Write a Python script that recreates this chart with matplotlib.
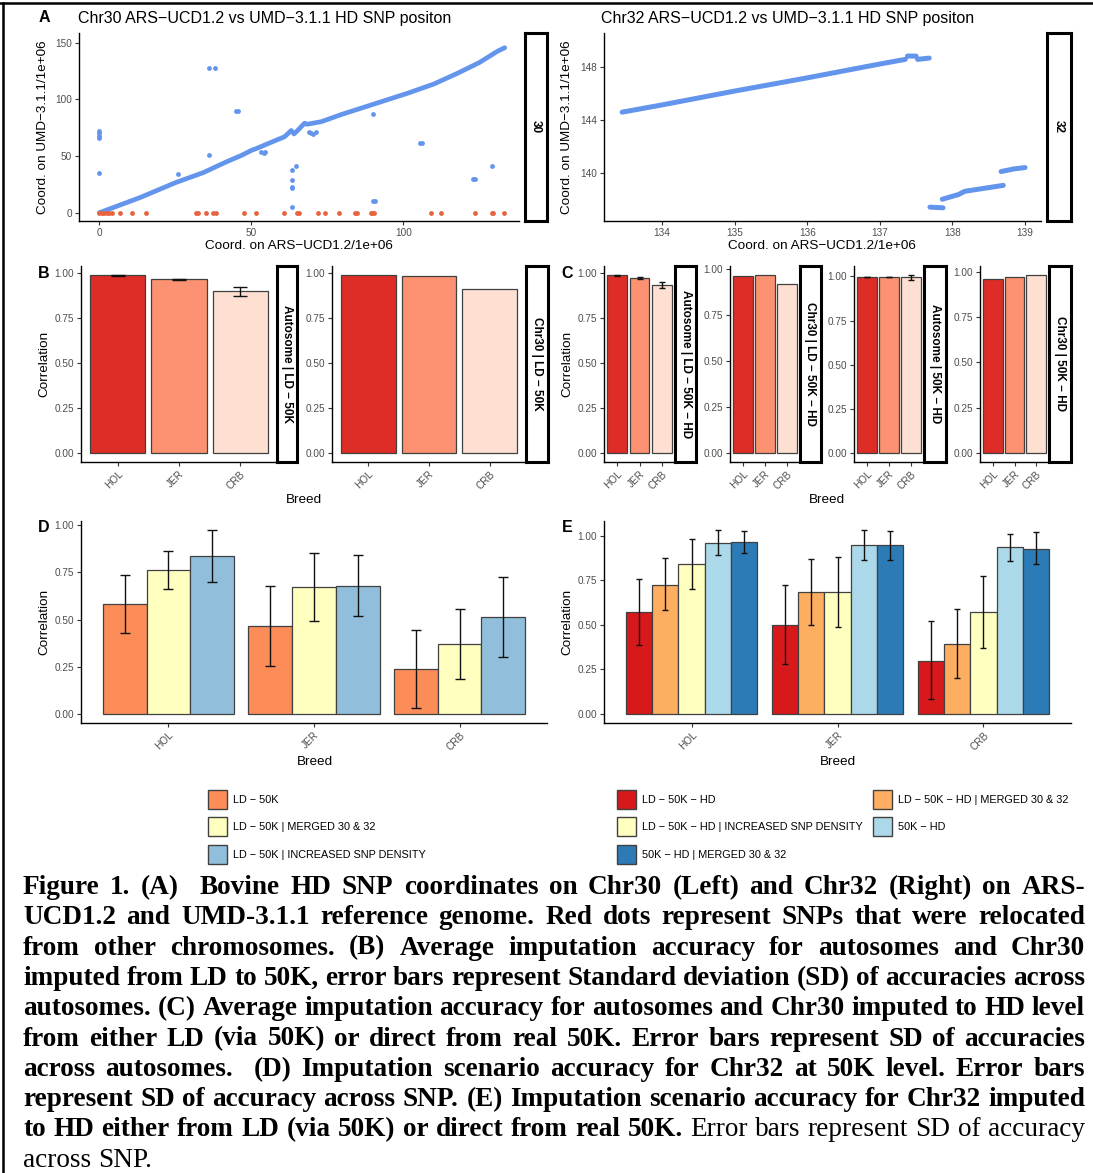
import numpy as np
import matplotlib
matplotlib.use("Agg")
import matplotlib.pyplot as plt
from matplotlib.patches import Patch
from matplotlib.lines import Line2D

plt.rcParams['font.family'] = ['Liberation Sans', 'DejaVu Sans']

# ================= DATA =================
nan = np.nan

# panel A, Chr30: main alignment band (Mb on ARS-UCD1.2 vs Mb on UMD-3.1.1)
chr30_band_ars = [0, 13.5, 25, 34.3, 35.5, 38.5, 42.3, 46.7, 50, 52, 55.5, 60.9, 63.1,
                  64, 65, 67.5, 68.3, 73, 80, 90.5, 101.4, 110, 117.8, 125, 129.9,
                  131, 133.3]
chr30_band_umd = [0, 13.5, 26.5, 35.5, 37, 40.8, 45.5, 50.5, 55, 57, 61, 67, 72.5,
                  69.5, 72, 79, 78, 80.3, 87, 96, 105.4, 113.5, 123, 132.5, 140.7,
                  142.5, 145.5]
# scattered SNPs off the band (incl. the small clusters just under it)
chr30_out_ars = [0, 0, 0, 0, 0, 0.3, 25.8, 36.2, 38, 36.2, 44.9, 45.5, 53.3, 54, 54.6,
                 68.8, 69.6, 70.4, 71.2, 63.5, 63.5, 63.5, 63.5,
                 63.5, 64.8, 89.9, 90, 90.8, 105.6, 106, 123, 123.4, 129]
chr30_out_umd = [66, 68, 70, 72, 35, 1, 34.4, 128, 128, 50.6, 90, 89.5, 53.5, 52.4, 53.2,
                 71.5, 70, 69.5, 71, 37.7, 28.9, 22.4, 21.5,
                 5.3, 41.2, 86.8, 10.3, 10.3, 61.8, 61.3, 29.7, 29.5, 41.2]
# SNPs relocated from other chromosomes (shown at 0 on UMD)
chr30_moved_ars = [0, 0.8, 1.6, 2.5, 3.3, 4.3, 6.8, 10.7, 15.2, 31.9, 32.5, 35.1, 37.4, 38.3,
                   47.5, 51.6, 60.7, 65.1, 65.6, 71.9, 74.1, 78.8, 84.0, 84.8, 89.2, 89.6, 90.3,
                   109.1, 112.2, 123.6, 129.0, 129.5, 133.1]

# panel A, Chr32 (segments split by nan)
chr32_ars = [133.45, 134, 135, 136, 137, 137.35, nan, 137.38, 137.5, nan, 137.52, 137.68, nan,
             137.69, 137.87, nan, 137.86, 138.08, 138.17, 138.7, nan, 138.67, 138.85, 139.0]
chr32_umd = [144.6, 145.15, 146.2, 147.2, 148.25, 148.6, nan, 148.85, 148.85, nan, 148.6, 148.7, nan,
             137.4, 137.35, nan, 138.0, 138.35, 138.6, 139.05, nan, 140.1, 140.3, 140.4]

breeds = ["HOL", "JER", "CRB"]

# panel B
b_auto = [0.988, 0.967, 0.900]
b_auto_sd = [0.003, 0.003, 0.025]
b_chr30 = [0.990, 0.983, 0.912]

# panel C
c_auto_ld = [0.985, 0.972, 0.930]
c_auto_ld_sd = [0.002, 0.006, 0.016]
c_chr30_ld = [0.960, 0.966, 0.918]
c_auto_50k = [0.995, 0.995, 0.995]
c_auto_50k_sd = [0.001, 0.001, 0.013]
c_chr30_50k = [0.958, 0.970, 0.982]

# panel D (Chr32 at 50K), rows = scenario, cols = breed
d_labels = ["LD − 50K", "LD − 50K | MERGED 30 & 32", "LD − 50K | INCREASED SNP DENSITY"]
d_mean = [[0.585, 0.466, 0.237],
          [0.765, 0.670, 0.372],
          [0.838, 0.680, 0.512]]
d_lo = [[0.427, 0.254, 0.029],
        [0.664, 0.490, 0.185],
        [0.698, 0.518, 0.299]]
d_hi = [[0.737, 0.676, 0.445],
        [0.866, 0.851, 0.557],
        [0.974, 0.845, 0.727]]

# panel E (Chr32 at HD)
e_labels = ["LD − 50K − HD", "LD − 50K − HD | MERGED 30 & 32",
            "LD − 50K − HD | INCREASED SNP DENSITY", "50K − HD", "50K − HD | MERGED 30 & 32"]
e_mean = [[0.570, 0.499, 0.298],
          [0.724, 0.685, 0.392],
          [0.841, 0.685, 0.571],
          [0.959, 0.946, 0.934],
          [0.964, 0.946, 0.927]]
e_lo = [[0.386, 0.280, 0.083],
        [0.583, 0.499, 0.201],
        [0.702, 0.488, 0.368],
        [0.893, 0.862, 0.856],
        [0.904, 0.864, 0.839]]
e_hi = [[0.756, 0.720, 0.518],
        [0.872, 0.869, 0.589],
        [0.981, 0.880, 0.773],
        [1.030, 1.030, 1.011],
        [1.023, 1.025, 1.017]]

caption = [
    [("Figure 1. (A)  Bovine HD SNP coordinates on Chr30 (Left) and Chr32 (Right) on ARS-", "bold")],
    [("UCD1.2 and UMD-3.1.1 reference genome. Red dots represent SNPs that were relocated", "bold")],
    [("from other chromosomes. (B) Average imputation accuracy for autosomes and Chr30", "bold")],
    [("imputed from LD to 50K, error bars represent Standard deviation (SD) of accuracies across", "bold")],
    [("autosomes. (C) Average imputation accuracy for autosomes and Chr30 imputed to HD level", "bold")],
    [("from either LD (via 50K) or direct from real 50K. Error bars represent SD of accuracies", "bold")],
    [("across autosomes.  (D) Imputation scenario accuracy for Chr32 at 50K level. Error bars", "bold")],
    [("represent SD of accuracy across SNP. (E) Imputation scenario accuracy for Chr32 imputed", "bold")],
    [("to HD either from LD (via 50K) or direct from real 50K.", "bold"),
     ("Error bars represent SD of accuracy", "normal")],
    [("across SNP.", "normal")],
]

# ================= STYLE =================
BLUE = "#6495ED"
RED = "#E8643F"
REDS3 = ["#DE2D26", "#FC9272", "#FEE0D2"]
D_COLS = ["#FC8D59", "#FFFFBF", "#91BFDB"]
E_COLS = ["#D7191C", "#FDAE61", "#FFFFBF", "#ABD9E9", "#2C7BB6"]
EDGE = "#404040"
TICK_FS = 7.2
TITLE_FS = 9.7

W, H = 1093, 1173
fig = plt.figure(figsize=(W / 100, H / 100), dpi=100)


def px(x0, y0, x1, y1):
    return [x0 / W, 1 - y1 / H, (x1 - x0) / W, (y1 - y0) / H]


def fx(x):
    return x / W


def fy(y):
    return 1 - y / H


def classic(ax):
    ax.spines[["top", "right"]].set_visible(False)
    ax.spines[["left", "bottom"]].set_linewidth(1.0)
    ax.tick_params(length=3, width=0.8, color="#333333", labelsize=TICK_FS,
                   labelcolor="#4D4D4D", pad=2)
    ax.patch.set_alpha(0)


def strip(x0, y0, x1, y1, label):
    s = fig.add_axes(px(x0, y0, x1, y1))
    s.set_xticks([])
    s.set_yticks([])
    for sp in s.spines.values():
        sp.set_linewidth(2.2)
        sp.set_color("black")
    s.text(0.5, 0.5, label, rotation=270, ha="center", va="center", fontsize=8.5,
           fontweight="bold", transform=s.transAxes)


def corr_axis(ax, top):
    ax.set_ylim(-0.05 * top, 1.05 * top)
    ax.set_yticks([0, 0.25, 0.5, 0.75, 1.0])
    ax.set_yticklabels(["0.00", "0.25", "0.50", "0.75", "1.00"])


def xrot(ax, labels):
    ax.set_xticks(range(len(labels)))
    ax.set_xticklabels(labels, rotation=45, ha="right", va="top", rotation_mode="anchor")


# ================= PANEL A =================
axA1 = fig.add_axes(px(79, 33, 519, 221))
axA1.plot(chr30_band_ars, chr30_band_umd, color=BLUE, lw=3.4,
          solid_capstyle="round", solid_joinstyle="round")
axA1.scatter(chr30_out_ars, chr30_out_umd, s=12, color=BLUE, lw=0)
axA1.scatter(chr30_moved_ars, np.zeros(len(chr30_moved_ars)), s=12, color=RED, lw=0, zorder=3)
axA1.set_xlim(-6.7, 138)
axA1.set_ylim(-7.3, 158.5)
axA1.set_xticks([0, 50, 100])
axA1.set_yticks([0, 50, 100, 150])
classic(axA1)
strip(525, 33, 547, 221, "30")

axA2 = fig.add_axes(px(604, 33, 1041, 221))
axA2.plot(chr32_ars, chr32_umd, color=BLUE, lw=3.6, solid_capstyle="round")
axA2.set_xlim(133.2, 139.22)
axA2.set_ylim(136.35, 150.6)
axA2.set_xticks([134, 135, 136, 137, 138, 139])
axA2.set_yticks([140, 144, 148])
classic(axA2)
strip(1047, 33, 1071, 221, "32")

fig.text(fx(78), fy(18), "Chr30 ARS−UCD1.2 vs UMD−3.1.1 HD SNP positon", fontsize=11.5, va="center")
fig.text(fx(601), fy(18), "Chr32 ARS−UCD1.2 vs UMD−3.1.1 HD SNP positon", fontsize=11.5, va="center")
for xc in (299, 822):
    fig.text(fx(xc), fy(246), "Coord. on ARS−UCD1.2/1e+06", fontsize=TITLE_FS, ha="center", va="center")
for xl in (43, 567):
    fig.text(fx(xl), fy(127), "Coord. on UMD−3.1.1/1e+06", fontsize=TITLE_FS, rotation=90,
             ha="center", va="center")

# ================= PANEL B / C =================
def bar_facet(rect, srect, vals, sd, label, cap):
    ax = fig.add_axes(px(*rect))
    x = np.arange(len(vals))
    ax.bar(x, vals, width=0.9, color=REDS3, edgecolor=EDGE, linewidth=0.9)
    top = max(vals)
    if sd is not None:
        ax.errorbar(x, vals, yerr=sd, fmt="none", ecolor="#111111", elinewidth=1, capsize=cap,
                    capthick=1)
        top = max(v + s for v, s in zip(vals, sd))
    ax.set_xlim(-0.6, 2.6)
    corr_axis(ax, top)
    xrot(ax, breeds)
    classic(ax)
    strip(*srect, label)
    return ax


bar_facet((81, 266, 277, 462), (277, 266, 297, 462), b_auto, b_auto_sd, "Autosome | LD − 50K", 5)
bar_facet((332, 266, 526, 462), (526, 266, 548, 462), b_chr30, None, "Chr30 | LD − 50K", 5)

bar_facet((604, 266, 675, 462), (675, 266, 696, 462), c_auto_ld, c_auto_ld_sd, "Autosome | LD − 50K − HD", 2.5)
bar_facet((730, 266, 800, 462), (800, 266, 821, 462), c_chr30_ld, None, "Chr30 | LD − 50K − HD", 2.5)
bar_facet((854, 266, 924, 462), (924, 266, 946, 462), c_auto_50k, c_auto_50k_sd, "Autosome | 50K − HD", 2.5)
bar_facet((980, 266, 1049, 462), (1049, 266, 1071, 462), c_chr30_50k, None, "Chr30 | 50K − HD", 2.5)

for xl in (44, 567):
    fig.text(fx(xl), fy(364), "Correlation", fontsize=TITLE_FS, rotation=90, ha="center", va="center")
fig.text(fx(304), fy(500), "Breed", fontsize=TITLE_FS, ha="center", va="center")
fig.text(fx(827), fy(500), "Breed", fontsize=TITLE_FS, ha="center", va="center")

# ================= PANEL D / E =================
def dodge_panel(rect, mean, lo, hi, cols, cap):
    ax = fig.add_axes(px(*rect))
    n = len(mean)
    w = 0.9 / n
    x = np.arange(len(breeds))
    for i in range(n):
        xi = x - 0.45 + w * (i + 0.5)
        m = np.array(mean[i])
        ax.bar(xi, m, width=w, color=cols[i], edgecolor=EDGE, linewidth=0.9)
        err = [m - np.array(lo[i]), np.array(hi[i]) - m]
        ax.errorbar(xi, m, yerr=err, fmt="none", ecolor="#111111", elinewidth=1, capsize=cap,
                    capthick=1)
    ax.set_xlim(-0.6, 2.6)
    corr_axis(ax, max(max(r) for r in hi))
    xrot(ax, breeds)
    classic(ax)
    return ax


dodge_panel((81, 521, 547, 723), d_mean, d_lo, d_hi, D_COLS, 3.5)
dodge_panel((604, 521, 1071, 723), e_mean, e_lo, e_hi, E_COLS, 2.5)
fig.text(fx(44), fy(622), "Correlation", fontsize=TITLE_FS, rotation=90, ha="center", va="center")
fig.text(fx(567), fy(622), "Correlation", fontsize=TITLE_FS, rotation=90, ha="center", va="center")
fig.text(fx(315), fy(762), "Breed", fontsize=TITLE_FS, ha="center", va="center")
fig.text(fx(838), fy(762), "Breed", fontsize=TITLE_FS, ha="center", va="center")

# panel letters
for lab, x, y in [("A", 44, 17), ("B", 44, 273), ("C", 567, 273), ("D", 44, 528), ("E", 567, 528)]:
    fig.text(fx(x), fy(y), lab, fontsize=11.5, fontweight="bold", ha="center", va="center")

# ================= LEGENDS =================
LEG_FS = 7.8


def legend_col(x, y, cols, labels):
    handles = [Patch(facecolor=c, edgecolor=EDGE, linewidth=1.0) for c in cols]
    fig.legend(handles, labels, loc="upper left", bbox_to_anchor=(fx(x), fy(y)), frameon=False,
               fontsize=LEG_FS, handlelength=1.75, handleheight=2.32, handletextpad=0.6,
               labelspacing=0.78, borderpad=0, borderaxespad=0)


legend_col(208, 790, D_COLS, d_labels)
legend_col(617, 790, [E_COLS[0], E_COLS[2], E_COLS[4]], [e_labels[0], e_labels[2], e_labels[4]])
legend_col(873, 790, [E_COLS[1], E_COLS[3]], [e_labels[1], e_labels[3]])

# ================= CAPTION =================
SERIF = "Liberation Serif"
rend = fig.canvas.get_renderer()


def text_w(s, weight, fs):
    t = fig.text(0, 0, s, fontsize=fs, fontweight=weight, family=SERIF)
    w = t.get_window_extent(renderer=rend).width
    t.remove()
    return w


# pick a size so the tightest line fills the measured text width
X0, X1 = 23, 1085
ref_line = caption[3][0][0]
cap_fs = 18 * (X1 - X0) / text_w(ref_line, "bold", 18)

y_base = 894
for i, line in enumerate(caption):
    words = []
    for chunk, weight in line:
        for wd in chunk.split(" "):
            words.append((wd, weight))
    widths = [text_w(wd, wt, cap_fs) if wd else 0.0 for wd, wt in words]
    last = i == len(caption) - 1
    if last:
        gap = text_w("a b", "normal", cap_fs) - text_w("ab", "normal", cap_fs)
    else:
        gap = (X1 - X0 - sum(widths)) / (len(words) - 1)
    xc = X0
    yb = y_base + i * 30.3
    for (wd, wt), w in zip(words, widths):
        if wd:
            fig.text(fx(xc), fy(yb), wd, fontsize=cap_fs, fontweight=wt, family=SERIF,
                     ha="left", va="baseline")
        xc += w + gap

# page frame (top and left rules)
fig.add_artist(Line2D([0, 1], [fy(3), fy(3)], color="black", lw=1.8, transform=fig.transFigure))
fig.add_artist(Line2D([fx(3), fx(3)], [0, fy(3)], color="black", lw=1.8, transform=fig.transFigure))

fig.savefig("out.png", dpi=100)
